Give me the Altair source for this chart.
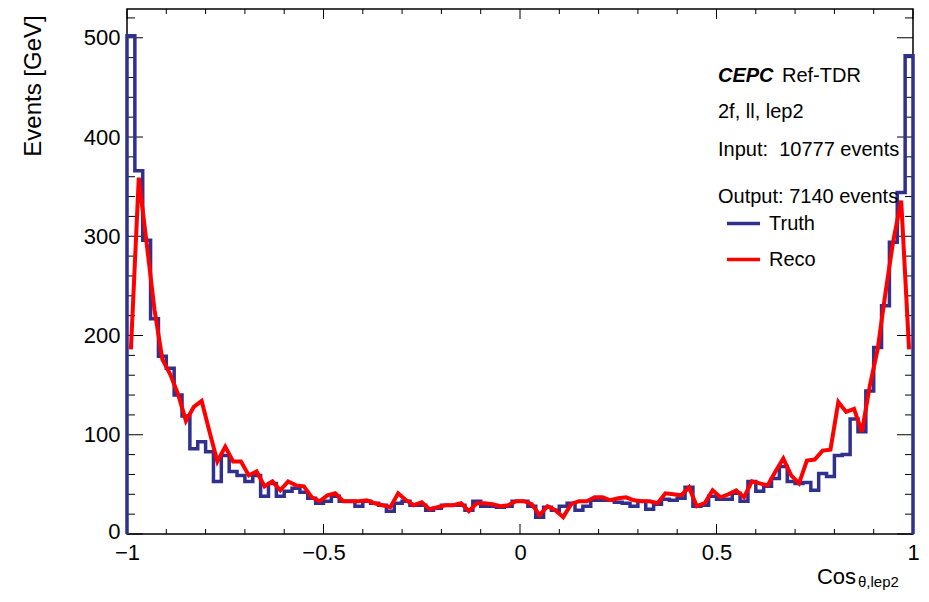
import altair as alt
import numpy as np
import pandas as pd

# ---------------- data ----------------
truth = [502, 366, 296, 217, 179, 167, 140, 119, 86, 93, 83, 53, 79, 63, 59, 53, 59, 38, 51, 38, 43, 46, 42, 36, 31,
         33, 38, 33, 33, 28, 33, 31, 29, 23, 31, 33, 29, 29, 24, 26, 29, 29, 29, 24, 33, 28, 28, 27, 28, 33,
         33, 28, 17, 27, 24, 28, 31, 24, 28, 34, 34, 34, 32, 31, 28, 33, 25, 30, 35, 34, 36, 47, 28, 29, 38,
         35, 35, 41, 33, 53, 43, 48, 56, 68, 53, 51, 52, 44, 61, 58, 79, 80, 116, 103, 144, 188, 230, 294, 344, 482]
reco = [186, 359, 293, 226, 176, 161, 141, 114, 128, 134, 103, 73, 88, 73, 73, 59, 63, 48, 53, 44, 53, 49, 48, 37, 33,
        39, 41, 33, 33, 33, 34, 31, 29, 27, 41, 34, 29, 32, 25, 27, 29, 29, 31, 23, 31, 31, 30, 28, 29, 33,
        33, 30, 19, 28, 24, 17, 30, 33, 33, 37, 37, 34, 36, 37, 34, 33, 33, 31, 41, 40, 39, 47, 28, 31, 44,
        37, 40, 44, 37, 53, 51, 49, 63, 76, 59, 51, 74, 75, 84, 85, 133, 123, 126, 103, 149, 186, 243, 296, 336, 186]
x_range = [-1.0, 1.0]
n_bins = 100
x_major = [-1, -0.5, 0, 0.5, 1]
x_minor = [-0.9, -0.8, -0.7, -0.6, -0.4, -0.3, -0.2, -0.1, 0.1, 0.2, 0.3, 0.4, 0.6, 0.7, 0.8, 0.9]
y_major = [0, 100, 200, 300, 400, 500]
y_minor = [20, 40, 60, 80, 120, 140, 160, 180, 220, 240, 260, 280, 320, 340, 360, 380, 420, 440, 460, 480, 520]
y_max = 529
series = ["Truth", "Reco"]
colors = ["#30308f", "#ff0000"]

# ---------------- tables ----------------
edges = np.linspace(x_range[0], x_range[1], n_bins + 1)
centers = 0.5 * (edges[:-1] + edges[1:])
step_x = [edges[0]] + list(edges[:-1]) + [edges[-1]]
step_y = [0] + truth + [0]
df_truth = pd.DataFrame({"x": step_x, "y": step_y, "i": range(len(step_x)), "series": "Truth"})
df_reco = pd.DataFrame({"x": centers, "y": reco, "i": range(n_bins), "series": "Reco"})

W, H = 786, 525
FONT = "Liberation Sans"

xscale = alt.Scale(domain=x_range, nice=False, zero=False)
yscale = alt.Scale(domain=[0, y_max], nice=False, zero=False)
xaxis = alt.Axis(values=x_major, format="~g", ticks=False, domain=False, grid=False,
                 labelFontSize=22, labelFont=FONT, labelColor="black", labelPadding=8,
                 labelFlush=False, title=None)
yaxis = alt.Axis(values=y_major, ticks=False, domain=False, grid=False,
                 labelFontSize=22, labelFont=FONT, labelColor="black", labelPadding=7,
                 labelOffset=alt.expr("datum.value == 0 ? -3 : 0"),
                 title="Events [GeV]", titleFontSize=24, titleFont=FONT, titleFontWeight="normal",
                 titleColor="black", titleAngle=270, titleX=-94, titleY=76.5,
                 titleAlign="center", titleBaseline="middle")

def X(field="x"):
    return alt.X(f"{field}:Q", scale=xscale, axis=xaxis)

def Y(field="y"):
    return alt.Y(f"{field}:Q", scale=yscale, axis=yaxis)

color = alt.Color("series:N", scale=alt.Scale(domain=series, range=colors),
                  legend=alt.Legend(title=None, orient="none", legendX=598, legendY=196,
                                    symbolType="stroke", symbolSize=1089, symbolStrokeWidth=3.5,
                                    labelFontSize=20, labelFont=FONT, labelColor="black",
                                    labelOffset=7, rowPadding=7, padding=0))

truth_line = alt.Chart(df_truth).mark_line(interpolate="step-after", strokeWidth=3.5).encode(
    x=X(), y=Y(), order="i:Q", color=color)
reco_line = alt.Chart(df_reco).mark_line(strokeWidth=4).encode(
    x=X(), y=Y(), order="i:Q", color=color)

def xticks(vals, length):
    d = pd.DataFrame({"x": vals})
    bottom = alt.Chart(d).mark_rule(color="black", strokeWidth=1).encode(
        x=X(), y=alt.value(H), y2=alt.value(H - length))
    top = alt.Chart(d).mark_rule(color="black", strokeWidth=1).encode(
        x=X(), y=alt.value(0), y2=alt.value(length))
    return [bottom, top]

def yticks(vals, length):
    d = pd.DataFrame({"y": vals})
    left = alt.Chart(d).mark_rule(color="black", strokeWidth=1).encode(
        y=Y(), x=alt.value(0), x2=alt.value(length))
    right = alt.Chart(d).mark_rule(color="black", strokeWidth=1).encode(
        y=Y(), x=alt.value(W), x2=alt.value(W - length))
    return [left, right]

def txt(s, x, y, size, weight="normal", style="normal", align="left"):
    return alt.Chart(pd.DataFrame({"t": [s]})).mark_text(
        font=FONT, fontSize=size, fontWeight=weight, fontStyle=style, align=align,
        baseline="alphabetic", color="black").encode(
        text="t:N", x=alt.value(x), y=alt.value(y))

texts = [
    txt("CEPC", 591, 73, 20, weight="bold", style="italic"),
    txt("Ref-TDR", 655, 73, 20),
    txt("2f, ll, lep2", 591, 109, 20),
    txt("Input:\u00a0 10777 events", 591, 147, 20),
    txt("Output: 7140 events", 591, 194, 20),
    txt("Cos", 729, 575, 22, align="right"),
    txt("\u03b8,lep2", 731, 578, 15),
]

layers = (xticks(x_major, 10) + xticks(x_minor, 5) + yticks(y_major, 16) + yticks(y_minor, 8)
          + [truth_line, reco_line] + texts)

chart = alt.layer(*layers).properties(
    width=W, height=H,
    autosize=alt.AutoSizeParams(type="none"),
    padding={"left": 127, "top": 9, "right": 16, "bottom": 68},
    background="white",
).configure_view(stroke="black", strokeWidth=1.5)

chart.save("out.html", embed_options={"renderer": "svg", "actions": False})
